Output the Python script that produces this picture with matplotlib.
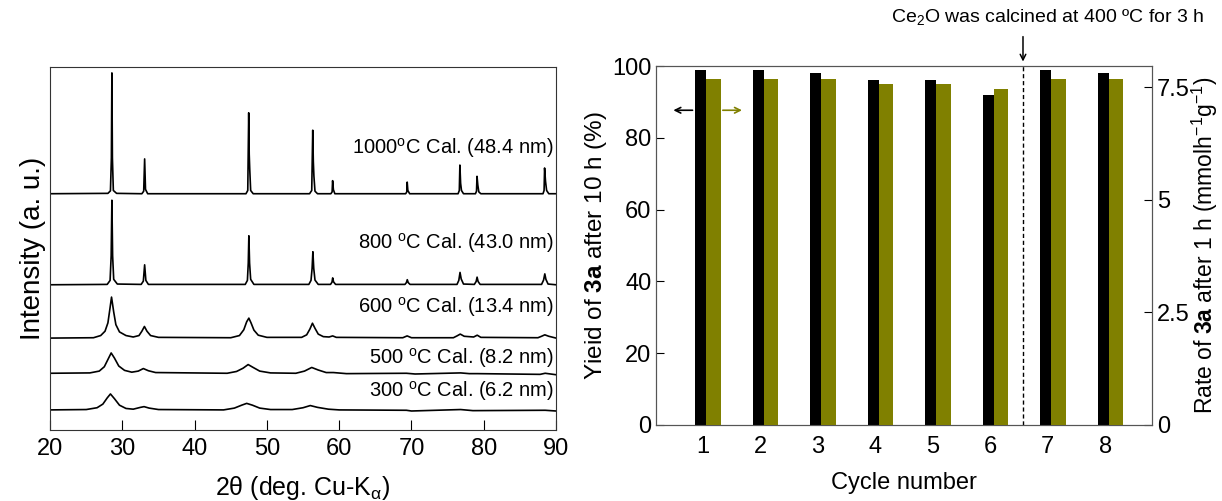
import numpy as np
import matplotlib.pyplot as plt

plt.rcParams['font.family'] = ['Liberation Sans', 'DejaVu Sans']
plt.rcParams['mathtext.fontset'] = 'custom'
plt.rcParams['mathtext.rm'] = 'Liberation Sans'
plt.rcParams['mathtext.it'] = 'Liberation Sans:italic'
plt.rcParams['mathtext.bf'] = 'Liberation Sans:bold'

# ---------------- XRD patterns (2theta, intensity in a.u.) ----------------
x_1000 = [20.0, 28.0, 28.35, 28.48, 28.55, 28.62, 28.75, 29.2, 32.7, 32.95, 33.08, 33.2, 33.5,
          47.1, 47.35, 47.48, 47.55, 47.62, 47.75, 48.1, 55.9, 56.2, 56.34, 56.42, 56.5, 56.65, 57.0,
          58.85, 59.02, 59.09, 59.2, 59.4, 69.2, 69.35, 69.41, 69.5, 69.75,
          76.45, 76.62, 76.7, 76.8, 76.92, 77.2, 78.85, 79.0, 79.07, 79.18, 79.32, 79.6,
          88.2, 88.35, 88.42, 88.55, 88.7, 89.0, 90.0]
y_1000 = [65.1, 65.2, 65.9, 75.0, 98.4, 75.0, 66.0, 65.2, 65.1, 65.8, 74.7, 66.3, 65.1,
          65.1, 66.0, 87.4, 76.0, 72.0, 66.0, 65.1, 65.1, 66.0, 82.6, 74.0, 70.0, 65.8, 65.1,
          65.1, 65.6, 68.7, 66.2, 65.1, 65.1, 65.6, 68.3, 66.0, 65.1,
          65.1, 66.0, 73.0, 68.0, 66.0, 65.1, 65.1, 65.8, 69.9, 67.5, 65.6, 65.1,
          65.1, 66.0, 72.2, 68.5, 66.0, 65.1, 65.1]

x_800 = [20.0, 27.9, 28.3, 28.45, 28.55, 28.65, 28.8, 29.3, 32.6, 32.9, 33.08, 33.25, 33.6,
         47.0, 47.3, 47.42, 47.5, 47.6, 47.75, 48.2, 55.8, 56.1, 56.25, 56.36, 56.48, 56.65, 57.1,
         58.8, 59.0, 59.1, 59.22, 59.5, 69.1, 69.3, 69.42, 69.55, 69.8,
         76.3, 76.55, 76.72, 76.88, 77.2, 78.7, 78.95, 79.08, 79.22, 79.5,
         88.0, 88.28, 88.45, 88.6, 88.9, 90.0]
y_800 = [40.0, 40.1, 41.2, 48.0, 63.3, 48.0, 41.5, 40.2, 40.1, 41.0, 45.5, 41.2, 40.1,
         40.1, 41.2, 46.0, 53.5, 46.0, 41.5, 40.1, 40.1, 41.2, 44.5, 49.1, 44.5, 41.3, 40.1,
         40.1, 40.7, 41.9, 40.8, 40.1, 40.1, 40.6, 41.4, 40.6, 40.1,
         40.1, 41.2, 43.4, 41.6, 40.2, 40.1, 40.9, 42.1, 40.9, 40.1,
         40.1, 41.3, 43.0, 41.5, 40.2, 40.0]

x_600 = [20.0, 26.0, 27.0, 27.6, 28.0, 28.25, 28.5, 28.8, 29.1, 29.6, 30.5, 31.5, 32.3, 32.7,
         33.05, 33.4, 33.9, 35.0, 45.0, 46.2, 46.8, 47.2, 47.5, 47.8, 48.2, 48.8, 50.0,
         54.8, 55.5, 55.95, 56.3, 56.65, 57.1, 57.8, 58.6, 59.1, 59.6, 68.8, 69.4, 70.0,
         75.8, 76.3, 76.75, 77.3, 78.6, 79.1, 79.6, 87.5, 88.0, 88.45, 89.0, 90.0]
y_600 = [25.3, 25.4, 26.0, 27.2, 29.5, 33.0, 36.6, 32.5, 29.0, 27.0, 26.0, 25.6, 26.0, 27.2,
         28.5, 27.2, 26.0, 25.5, 25.4, 26.0, 27.6, 29.8, 30.8, 29.5, 27.5, 26.1, 25.5,
         25.5, 26.2, 27.8, 29.4, 28.0, 26.4, 25.7, 25.6, 25.9, 25.5, 25.4, 25.9, 25.4,
         25.4, 25.9, 26.4, 25.8, 25.6, 26.1, 25.5, 25.4, 25.8, 26.2, 25.8, 25.3]

x_500 = [20.0, 25.5, 26.8, 27.5, 28.0, 28.45, 28.9, 29.5, 30.3, 31.3, 32.2, 32.9, 33.6, 34.6,
         44.5, 45.8, 46.7, 47.4, 48.1, 49.0, 50.5, 54.0, 55.2, 56.2, 57.1, 58.2, 59.2, 61.0,
         69.3, 70.5, 76.8, 78.0, 79.1, 87.8, 88.5, 90.0]
y_500 = [15.6, 15.7, 16.2, 17.4, 19.4, 21.2, 19.8, 17.6, 16.4, 15.9, 16.2, 16.9, 16.3, 15.8,
         15.6, 16.1, 17.0, 18.0, 17.2, 16.2, 15.7, 15.6, 16.2, 17.2, 16.5, 15.8, 15.8, 15.5,
         15.6, 15.4, 15.7, 15.5, 15.5, 15.3, 15.6, 15.2]

x_300 = [20.0, 25.0, 26.5, 27.3, 27.9, 28.35, 28.9, 29.6, 30.5, 31.5, 32.5, 33.0, 33.7, 35.0,
         44.0, 45.5, 46.5, 47.2, 48.0, 49.0, 50.5, 53.5, 55.0, 56.0, 57.0, 58.5, 60.0,
         69.3, 70.0, 76.8, 78.5, 88.5, 90.0]
y_300 = [5.5, 5.6, 6.1, 7.1, 8.8, 9.9, 8.6, 6.8, 5.9, 5.7, 6.2, 6.4, 6.0, 5.6,
         5.5, 6.0, 6.8, 7.3, 6.8, 6.0, 5.6, 5.6, 6.1, 6.7, 6.2, 5.7, 5.5,
         5.4, 5.2, 5.6, 5.3, 5.4, 5.2]

xrd_labels = [r'1000$^\mathrm{o}$C Cal. (48.4 nm)', r'800 $^\mathrm{o}$C Cal. (43.0 nm)',
              r'600 $^\mathrm{o}$C Cal. (13.4 nm)', r'500 $^\mathrm{o}$C Cal. (8.2 nm)',
              r'300 $^\mathrm{o}$C Cal. (6.2 nm)']
label_y = [77.7, 51.5, 34.0, 19.8, 10.6]

# ---------------- Recycling test ----------------
cycles = [1, 2, 3, 4, 5, 6, 7, 8]
yield_pct = [99, 99, 98, 96, 96, 92, 99, 98]
rate = [7.69, 7.69, 7.69, 7.58, 7.58, 7.46, 7.69, 7.69]

OLIVE = '#808000'

fig = plt.figure(figsize=(12.22, 5.01), dpi=100)

# ===== left: XRD =====
ax1 = fig.add_axes([0.041, 0.142, 0.414, 0.724])
for xs, ys in [(x_1000, y_1000), (x_800, y_800), (x_600, y_600), (x_500, y_500), (x_300, y_300)]:
    ax1.plot(xs, ys, color='black', lw=1.2)
for txt, ty in zip(xrd_labels, label_y):
    ax1.text(89.7, ty, txt, ha='right', va='center', fontsize=14.5)
ax1.set_xlim(20, 90)
ax1.set_ylim(0, 100)
ax1.set_yticks([])
ax1.set_xticks(np.arange(20, 91, 10))
ax1.tick_params(axis='x', direction='in', length=7, labelsize=17, pad=6)
ax1.set_xlabel('2θ (deg. Cu-K$_{\\mathrm{\\alpha}}$)', fontsize=18, labelpad=10)
ax1.set_ylabel('Intensity (a. u.)', fontsize=20, labelpad=3)
for s in ax1.spines.values():
    s.set_color('#333333')

# ===== right: recycling bars =====
ax2 = fig.add_axes([0.537, 0.152, 0.406, 0.716])
ax3 = ax2.twinx()
c = np.array(cycles, dtype=float)
ax2.bar(c - 0.13, yield_pct, width=0.19, align='edge', color='black', zorder=3)
ax3.bar(c + 0.06, rate, width=0.25, align='edge', color=OLIVE, zorder=3)
ax2.axvline(6.57, color='black', ls=(0, (3, 2)), lw=1)

ax2.set_xlim(0.19, 8.82)
ax2.set_ylim(0, 100)
ax3.set_ylim(0, 7.97)
ax2.set_xticks(cycles)
ax2.set_yticks([0, 20, 40, 60, 80, 100])
ax3.set_yticks([0, 2.5, 5, 7.5])
ax3.set_yticklabels(['0', '2.5', '5', '7.5'])
ax2.tick_params(axis='x', length=0, labelsize=17, pad=8)
ax2.tick_params(axis='y', direction='in', length=6, labelsize=17)
ax3.tick_params(axis='y', direction='in', length=6, labelsize=17)
ax2.set_xlabel('Cycle number', fontsize=17, labelpad=10)
ax2.set_ylabel(r'Yieid of $\mathbf{3a}$ after 10 h (%)', fontsize=17.5, labelpad=2)
ax3.set_ylabel(r'Rate of $\mathbf{3a}$ after 1 h (mmolh$^{-1}$g$^{-1}$)', fontsize=16.5, labelpad=0)
for a in (ax2, ax3):
    for s in a.spines.values():
        s.set_color('#555555')

# axis-direction arrows
ax2.annotate('', xy=(0.44, 87.7), xytext=(0.87, 87.7),
             arrowprops=dict(arrowstyle='->', color='black', lw=1.2))
ax2.annotate('', xy=(1.73, 87.7), xytext=(1.30, 87.7),
             arrowprops=dict(arrowstyle='->', color=OLIVE, lw=1.2))

# calcination note
ax2.annotate('', xy=(6.57, 100.5), xytext=(6.57, 109),
             arrowprops=dict(arrowstyle='->', color='black', lw=1.1), annotation_clip=False)
ax2.text(7.0, 111, r'Ce$_2$O was calcined at 400 ºC for 3 h', ha='center', va='bottom',
         fontsize=14)

fig.savefig('out.png', dpi=100)
